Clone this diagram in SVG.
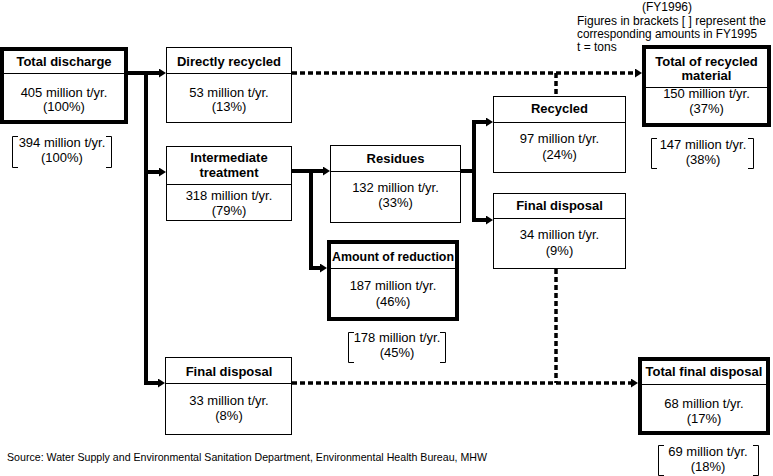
<svg xmlns="http://www.w3.org/2000/svg" width="773" height="476" viewBox="0 0 773 476">
<defs>
<style>
text{font-family:"Liberation Sans",Arial,Helvetica,sans-serif;fill:#000}
.t{font-size:13px;font-weight:bold;text-anchor:middle}
.v{font-size:13px;text-anchor:middle}
.h{font-size:12px}
.s{font-size:11.5px}
.thin{fill:#fff;stroke:#000;stroke-width:1}
.thick{fill:#fff;stroke:#000;stroke-width:4}
.div{stroke:#000;stroke-width:1;fill:none}
.br{fill:none;stroke:#000;stroke-width:1}
.sol{fill:none;stroke:#000;stroke-width:4;stroke-linejoin:miter}
.dot{fill:none;stroke:#000;stroke-width:3.5;stroke-dasharray:5 3}
</style>
<marker id="ah" markerUnits="userSpaceOnUse" markerWidth="8" markerHeight="9" refX="2" refY="4.5" orient="auto">
<path d="M0,0 L7,4.5 L0,9 Z" fill="#000"/>
</marker>
</defs>
<rect width="773" height="476" fill="#fff"/>

<g id="connectors">
<path class="sol" d="M128,73 H161" marker-end="url(#ah)"/>
<path class="sol" d="M146,73 V383 H160" marker-end="url(#ah)"/>
<path class="sol" d="M146,172 H161" marker-end="url(#ah)"/>
<path class="sol" d="M292,171 H311 V268 H322" marker-end="url(#ah)"/>
<path class="sol" d="M311,171 H325" marker-end="url(#ah)"/>
<path class="sol" d="M461,171 H474 V122 H488" marker-end="url(#ah)"/>
<path class="sol" d="M474,171 V220 H488" marker-end="url(#ah)"/>
<path class="dot" d="M292,73 H637" marker-end="url(#ah)"/>
<path class="dot" d="M556,73 V96"/>
<path class="dot" d="M292,383 H633" marker-end="url(#ah)"/>
<path class="dot" d="M556,269 V383"/>
</g>

<g id="header">
<text class="h" x="667" y="11" text-anchor="middle">(FY1996)</text>
<text class="h" x="577" y="25" textLength="189" lengthAdjust="spacingAndGlyphs">Figures in brackets [ ] represent the</text>
<text class="h" x="577" y="38" textLength="180" lengthAdjust="spacingAndGlyphs">corresponding amounts in FY1995</text>
<text class="h" x="577" y="51">t = tons</text>
</g>

<g id="total-discharge">
<rect class="thick" x="2" y="49" width="124" height="73"/>
<line class="div" x1="4" y1="73.5" x2="124" y2="73.5"/>
<text class="t" x="64" y="66">Total discharge</text>
<text class="v" x="64" y="97">405 million t/yr.</text>
<text class="v" x="64" y="111">(100%)</text>
</g>
<g id="total-discharge-1995">
<path class="br" d="M18,136.5 H12.5 V167.5 H18 M106,136.5 H111.5 V167.5 H106"/>
<text class="v" x="62" y="147">394 million t/yr.</text>
<text class="v" x="62" y="162">(100%)</text>
</g>

<g id="directly-recycled">
<rect class="thin" x="166.5" y="47.5" width="125" height="75"/>
<line class="div" x1="166.5" y1="73.5" x2="291.5" y2="73.5"/>
<text class="t" x="229" y="66">Directly recycled</text>
<text class="v" x="229" y="97">53 million t/yr.</text>
<text class="v" x="229" y="111">(13%)</text>
</g>

<g id="intermediate-treatment">
<rect class="thin" x="166.5" y="146.5" width="125" height="74"/>
<line class="div" x1="166.5" y1="184.5" x2="291.5" y2="184.5"/>
<text class="t" x="229" y="162">Intermediate</text>
<text class="t" x="229" y="177">treatment</text>
<text class="v" x="229" y="200">318 million t/yr.</text>
<text class="v" x="229" y="215">(79%)</text>
</g>

<g id="final-disposal-direct">
<rect class="thin" x="165.5" y="357.5" width="126" height="77"/>
<line class="div" x1="165.5" y1="383.5" x2="291.5" y2="383.5"/>
<text class="t" x="229" y="376">Final disposal</text>
<text class="v" x="229" y="405">33 million t/yr.</text>
<text class="v" x="229" y="420">(8%)</text>
</g>

<g id="residues">
<rect class="thin" x="330.5" y="145.5" width="130" height="77"/>
<line class="div" x1="330.5" y1="171.5" x2="460.5" y2="171.5"/>
<text class="t" x="395.5" y="163">Residues</text>
<text class="v" x="395.5" y="192">132 million t/yr.</text>
<text class="v" x="395.5" y="207">(33%)</text>
</g>

<g id="amount-of-reduction">
<rect class="thick" x="329" y="242" width="128" height="77"/>
<line class="div" x1="331" y1="268.5" x2="455" y2="268.5"/>
<text class="t" x="393" y="261" textLength="122" lengthAdjust="spacingAndGlyphs">Amount of reduction</text>
<text class="v" x="393" y="290">187 million t/yr.</text>
<text class="v" x="393" y="306">(46%)</text>
</g>
<g id="amount-of-reduction-1995">
<path class="br" d="M354,332.5 H348.5 V362.5 H354 M440,332.5 H445.5 V362.5 H440"/>
<text class="v" x="397" y="342">178 million t/yr.</text>
<text class="v" x="397" y="357">(45%)</text>
</g>

<g id="recycled">
<rect class="thin" x="493.5" y="96.5" width="132" height="76"/>
<line class="div" x1="493.5" y1="122.5" x2="625.5" y2="122.5"/>
<text class="t" x="559.5" y="113">Recycled</text>
<text class="v" x="559.5" y="143">97 million t/yr.</text>
<text class="v" x="559.5" y="159">(24%)</text>
</g>

<g id="final-disposal-residue">
<rect class="thin" x="493.5" y="193.5" width="132" height="75"/>
<line class="div" x1="493.5" y1="218.5" x2="625.5" y2="218.5"/>
<text class="t" x="559.5" y="210">Final disposal</text>
<text class="v" x="559.5" y="239">34 million t/yr.</text>
<text class="v" x="559.5" y="255">(9%)</text>
</g>

<g id="total-recycled">
<rect class="thick" x="644" y="47" width="125" height="78"/>
<line class="div" x1="646" y1="87.5" x2="767" y2="87.5"/>
<text class="t" x="706.5" y="66">Total of recycled</text>
<text class="t" x="706.5" y="80">material</text>
<text class="v" x="706.5" y="98">150 million t/yr.</text>
<text class="v" x="706.5" y="113">(37%)</text>
</g>
<g id="total-recycled-1995">
<path class="br" d="M657,138.5 H651.5 V168.5 H657 M748,138.5 H753.5 V168.5 H748"/>
<text class="v" x="703" y="149">147 million t/yr.</text>
<text class="v" x="703" y="164">(38%)</text>
</g>

<g id="total-final-disposal">
<rect class="thick" x="640" y="359" width="128" height="74"/>
<line class="div" x1="642" y1="384.5" x2="766" y2="384.5"/>
<text class="t" x="704" y="376">Total final disposal</text>
<text class="v" x="704" y="408">68 million t/yr.</text>
<text class="v" x="704" y="423">(17%)</text>
</g>
<g id="total-final-disposal-1995">
<path class="br" d="M664,445.5 H658.5 V475.5 H664 M753,445.5 H758.5 V475.5 H753"/>
<text class="v" x="708" y="456">69 million t/yr.</text>
<text class="v" x="708" y="471">(18%)</text>
</g>

<g id="source">
<text class="s" x="7" y="461" textLength="480" lengthAdjust="spacingAndGlyphs">Source:  Water Supply and Environmental Sanitation Department, Environmental Health Bureau, MHW</text>
</g>
</svg>
